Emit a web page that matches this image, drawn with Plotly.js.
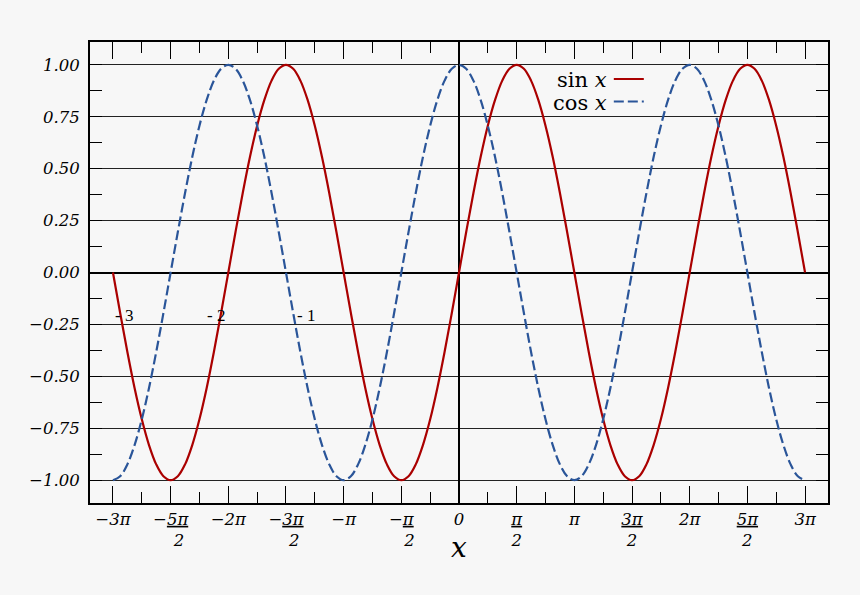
<!DOCTYPE html>
<html>
<head>
<meta charset="utf-8">
<script src="https://cdn.plot.ly/plotly-3.0.1.min.js"></script>
<style>
html,body{margin:0;padding:0;background:#f7f7f7;}
#chart{width:860px;height:595px;}
</style>
</head>
<body>
<div id="chart"></div>
<script>
// x positions: multiples of pi/16 from -3pi to 3pi
const xs = [-9.425,-9.228,-9.032,-8.836,-8.639,-8.443,-8.247,-8.050,-7.854,-7.658,-7.461,-7.265,-7.069,-6.872,-6.676,-6.480,
 -6.283,-6.087,-5.890,-5.694,-5.498,-5.301,-5.105,-4.909,-4.712,-4.516,-4.320,-4.123,-3.927,-3.731,-3.534,-3.338,
 -3.142,-2.945,-2.749,-2.553,-2.356,-2.160,-1.963,-1.767,-1.571,-1.374,-1.178,-0.982,-0.785,-0.589,-0.393,-0.196,
 0,0.196,0.393,0.589,0.785,0.982,1.178,1.374,1.571,1.767,1.963,2.160,2.356,2.553,2.749,2.945,
 3.142,3.338,3.534,3.731,3.927,4.123,4.320,4.516,4.712,4.909,5.105,5.301,5.498,5.694,5.890,6.087,
 6.283,6.480,6.676,6.872,7.069,7.265,7.461,7.658,7.854,8.050,8.247,8.443,8.639,8.836,9.032,9.228,9.425];
const sinY = [0,-0.195,-0.383,-0.556,-0.707,-0.831,-0.924,-0.981,-1,-0.981,-0.924,-0.831,-0.707,-0.556,-0.383,-0.195,
 0,0.195,0.383,0.556,0.707,0.831,0.924,0.981,1,0.981,0.924,0.831,0.707,0.556,0.383,0.195,
 0,-0.195,-0.383,-0.556,-0.707,-0.831,-0.924,-0.981,-1,-0.981,-0.924,-0.831,-0.707,-0.556,-0.383,-0.195,
 0,0.195,0.383,0.556,0.707,0.831,0.924,0.981,1,0.981,0.924,0.831,0.707,0.556,0.383,0.195,
 0,-0.195,-0.383,-0.556,-0.707,-0.831,-0.924,-0.981,-1,-0.981,-0.924,-0.831,-0.707,-0.556,-0.383,-0.195,
 0,0.195,0.383,0.556,0.707,0.831,0.924,0.981,1,0.981,0.924,0.831,0.707,0.556,0.383,0.195,0];
const cosY = [-1,-0.981,-0.924,-0.831,-0.707,-0.556,-0.383,-0.195,
 0,0.195,0.383,0.556,0.707,0.831,0.924,0.981,1,0.981,0.924,0.831,0.707,0.556,0.383,0.195,
 0,-0.195,-0.383,-0.556,-0.707,-0.831,-0.924,-0.981,-1,-0.981,-0.924,-0.831,-0.707,-0.556,-0.383,-0.195,
 0,0.195,0.383,0.556,0.707,0.831,0.924,0.981,1,0.981,0.924,0.831,0.707,0.556,0.383,0.195,
 0,-0.195,-0.383,-0.556,-0.707,-0.831,-0.924,-0.981,-1,-0.981,-0.924,-0.831,-0.707,-0.556,-0.383,-0.195,
 0,0.195,0.383,0.556,0.707,0.831,0.924,0.981,1,0.981,0.924,0.831,0.707,0.556,0.383,0.195,
 0,-0.195,-0.383,-0.556,-0.707,-0.831,-0.924,-0.981,-1];

const xLabelVals = [-9.425,-7.854,-6.283,-4.712,-3.142,-1.571,0,1.571,3.142,4.712,6.283,7.854,9.425];
const xLabelText = [
  '<i>−3π</i>',
  '<i>−<u>5π</u></i><br><i>\u20032</i>',
  '<i>−2π</i>',
  '<i>−<u>3π</u></i><br><i>\u20032</i>',
  '<i>−π</i>',
  '<i>−<u>π</u></i><br><i>\u20032</i>',
  '<i>0</i>',
  '<i><u>π</u></i><br><i>2</i>',
  '<i>π</i>',
  '<i><u>3π</u></i><br><i>2</i>',
  '<i>2π</i>',
  '<i><u>5π</u></i><br><i>2</i>',
  '<i>3π</i>'
];
const xQuarterVals = [-9.425,-8.639,-7.854,-7.069,-6.283,-5.498,-4.712,-3.927,-3.142,-2.356,-1.571,-0.785,0,0.785,1.571,2.356,3.142,3.927,4.712,5.498,6.283,7.069,7.854,8.639,9.425];
const xEighthVals = [-9.425,-9.032,-8.639,-8.247,-7.854,-7.461,-7.069,-6.676,-6.283,-5.890,-5.498,-5.105,-4.712,-4.320,-3.927,-3.534,-3.142,-2.749,-2.356,-1.963,-1.571,-1.178,-0.785,-0.393,0,0.393,0.785,1.178,1.571,1.963,2.356,2.749,3.142,3.534,3.927,4.320,4.712,5.105,5.498,5.890,6.283,6.676,7.069,7.461,7.854,8.247,8.639,9.032,9.425];
const xPiVals = [-9.425,-6.283,-3.142,0,3.142,6.283,9.425];

const yLabelVals = [-1,-0.75,-0.5,-0.25,0,0.25,0.5,0.75,1];
const yLabelText = ['<i>−1.00</i>','<i>−0.75</i>','<i>−0.50</i>','<i>−0.25</i>','<i>0.00</i>','<i>0.25</i>','<i>0.50</i>','<i>0.75</i>','<i>1.00</i>'];
const yEighthVals = [-1,-0.875,-0.75,-0.625,-0.5,-0.375,-0.25,-0.125,0,0.125,0.25,0.375,0.5,0.625,0.75,0.875,1];

const legendNames = ['sin <i>x</i>','cos <i>x</i>'];
const xTitle = '<i>x</i>';
const strayLabels = ['- 3','- 2','- 1'];
const strayX = [-9.12,-6.63,-4.18];
const strayY = [-0.205,-0.205,-0.205];

const xRange = [-10.05, 10.05];
const yRange = [-1.11, 1.11];

const RED = '#aa0000';
const BLUE = '#2a5599';
const serif = 'DejaVu Serif';

const traces = [
  {x: xs, y: sinY, type:'scatter', mode:'lines', name:' ',
   line:{color:RED, width:2.2, shape:'spline', smoothing:1}, hoverinfo:'skip'},
  {x: xs, y: cosY, type:'scatter', mode:'lines', name:' ',
   line:{color:BLUE, width:2.2, dash:'10px,4px', shape:'spline', smoothing:1}, hoverinfo:'skip'}
];

const annotations = legendNames.map((t,i)=>({
  text: t, xref:'paper', yref:'paper', x: 0.7033, y: [0.9176,0.8677][i],
  xanchor:'right', yanchor:'middle', showarrow:false,
  font:{family: serif, size:21, color:'#000'}
})).concat(strayLabels.map((t,i)=>({
  text: t, xref:'x', yref:'y', x: strayX[i], y: strayY[i],
  xanchor:'center', yanchor:'middle', showarrow:false,
  font:{family:'Liberation Serif', size:17, color:'#000'}
}))).concat([{
  text: xTitle, xref:'paper', yref:'paper', x:0.5, y:-0.097,
  xanchor:'center', yanchor:'middle', showarrow:false,
  font:{family: serif, size:28, color:'#000'}
}]);

const layout = {
  width: 860, height: 595,
  margin:{l:90, r:32, t:42, b:92, pad:0},
  paper_bgcolor:'#f7f7f7', plot_bgcolor:'#f7f7f7',
  showlegend: true,
  legend:{x:0.703, xanchor:'left', y:0.955, yanchor:'top', bgcolor:'rgba(0,0,0,0)',
          font:{family: serif, size:15}, tracegroupgap:0, itemwidth:30},
  xaxis:{
    range:xRange, tickmode:'array', tickvals:xLabelVals, ticktext:xLabelText,
    ticks:'inside', ticklen:17, tickwidth:1, tickcolor:'#000',
    minor:{tickmode:'array', tickvals:xQuarterVals, ticks:'inside', ticklen:11, tickwidth:1, tickcolor:'#000', showgrid:false},
    showgrid:false, zeroline:true, zerolinecolor:'#000', zerolinewidth:2,
    showline:true, linecolor:'#000', linewidth:2, mirror:'ticks',
    tickfont:{family: serif, size:16.5, color:'#000'}, ticklabelstandoff:0
  },
  xaxis2:{
    overlaying:'x', anchor:'y', side:'bottom', range:xRange,
    tickmode:'array', tickvals:xPiVals, ticks:'', showticklabels:false,
    minor:{tickmode:'array', tickvals:xEighthVals, ticks:'inside', ticklen:5, tickwidth:1, tickcolor:'#000', showgrid:false},
    showgrid:true, gridcolor:'#3a3a3a', gridwidth:1.2, zeroline:false, showline:false, mirror:'ticks'
  },
  yaxis:{
    range:yRange, tickmode:'array', tickvals:yLabelVals, ticktext:yLabelText,
    ticks:'inside', ticklen:12, tickwidth:1, tickcolor:'#000',
    minor:{tickmode:'array', tickvals:yEighthVals, ticks:'inside', ticklen:12, tickwidth:1, tickcolor:'#000', showgrid:false},
    showgrid:true, gridcolor:'#222', gridwidth:1.2,
    zeroline:true, zerolinecolor:'#000', zerolinewidth:2,
    showline:true, linecolor:'#000', linewidth:2, mirror:'ticks',
    tickfont:{family: serif, size:16.5, color:'#000'}, ticklabelstandoff:5
  },
  yaxis2:{
    overlaying:'y', anchor:'x', side:'left', range:yRange,
    tickmode:'linear', tick0:0, dtick:0.0625, ticks:'inside', ticklen:6, tickwidth:1, tickcolor:'#000',
    showticklabels:false, showgrid:false, zeroline:false, showline:false, mirror:'ticks'
  },
  annotations: annotations
};

Plotly.newPlot('chart', traces, layout, {staticPlot:true});
</script>
</body>
</html>
